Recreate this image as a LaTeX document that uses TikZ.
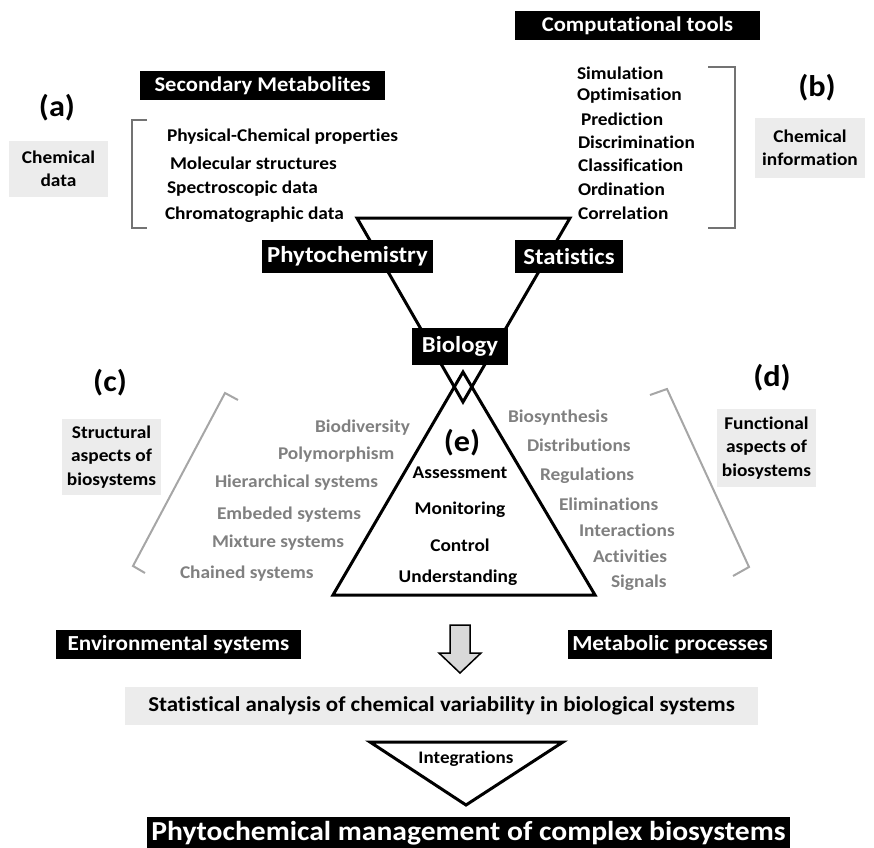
\documentclass[tikz,border=0pt]{standalone}
\usepackage{fontspec}
\setmainfont{Carlito}[FakeStretch=1.08, Ligatures=NoCommon]
\definecolor{panel}{RGB}{236,236,236}
\definecolor{lbl}{RGB}{128,128,128}
\definecolor{brk}{RGB}{115,115,115}
\definecolor{brklight}{RGB}{166,166,166}
\definecolor{arrowfill}{RGB}{217,217,217}
\newcommand{\fsz}[1]{\fontsize{#1}{#1}\selectfont\bfseries}
\begin{document}
\begin{tikzpicture}[x=1bp,y=-1bp,
  every node/.style={inner sep=0pt, outer sep=0pt},
  blackbox/.style={fill=black, text=white, font=\fsz{21}},
  panelbox/.style={fill=panel, text=black, font=\fontsize{18}{23.5}\selectfont\bfseries, align=center},
  item/.style={anchor=west, text=black, font=\fsz{18}},
  grayitem/.style={anchor=west, text=lbl, font=\fsz{18}},
  inner/.style={text=black, font=\fsz{18}},
  tag/.style={text=black, font=\fsz{30}},
  frame/.style={draw=black, line width=3bp, line join=miter},
  bracket/.style={draw=brk, line width=2bp},
  lightbracket/.style={draw=brklight, line width=2bp}]
\useasboundingbox (0,0) rectangle (874,848);

% ---- funnel: Phytochemistry / Statistics -> Biology
\coordinate (ftl) at (357,218);
\coordinate (ftr) at (570,218);
\coordinate (fap) at (463,402);
\draw[frame] (ftl) -- (ftr) -- (fap) -- cycle;

% ---- pyramid (e)
\coordinate (pap) at (463,372);
\coordinate (pbr) at (595,595);
\coordinate (pbl) at (333,595);
\draw[frame] (pap) -- (pbr) -- (pbl) -- cycle;

% ---- integration funnel
\coordinate (itl) at (370,742);
\coordinate (itr) at (563,742);
\coordinate (iap) at (466,805);
\draw[frame, fill=white] (itl) -- (itr) -- (iap) -- cycle;

% ---- header boxes
\node[blackbox, minimum width=245bp, minimum height=29bp] (secmet) at (262.5,85.5) {Secondary Metabolites};
\node[blackbox, minimum width=245bp, minimum height=29bp] (comp) at (637.5,25.5) {Computational tools};
\node[blackbox, font=\fsz{23}, minimum width=171bp, minimum height=33bp] (phyto) at (347.5,256.5) {Phytochemistry};
\node[blackbox, font=\fsz{23}, minimum width=108bp, minimum height=33bp] (stat) at (569,256.5) {Statistics};
\node[blackbox, font=\fsz{23}, minimum width=96bp, minimum height=37bp] (bio) at (460,346.5) {Biology};

% ---- (a) chemical data
\node[tag] (taga) at (57,108) {(a)};
\node[panelbox, minimum width=99bp, minimum height=56bp] (chemdata) at (58.5,169) {Chemical\\data};
\draw[bracket] (147,120) -- (132,120) -- (132,228) -- (147,228);
\node[item] (pcp) at (167,137) {Physical-Chemical properties};
\node[item] (mol) at (170,163) {Molecular structures};
\node[item] (spec) at (167,189) {Spectroscopic data};
\node[item] (chrom) at (165,215) {Chromatographic data};

% ---- (b) chemical information
\node[tag] (tagb) at (817,88) {(b)};
\node[panelbox, minimum width=110bp, minimum height=60bp] (cheminfo) at (810,148) {Chemical\\information};
\draw[bracket] (708,67) -- (735,67) -- (735,228) -- (708,228);
\node[item] (sim) at (577,73) {Simulation};
\node[item] (opt) at (577,96) {Optimisation};
\node[item] (pred) at (581,119) {Prediction};
\node[item] (disc) at (578,142) {Discrimination};
\node[item] (clas) at (578,165) {Classification};
\node[item] (ordi) at (578,189) {Ordination};
\node[item] (corr) at (578,213) {Correlation};

% ---- (c) structural aspects
\node[tag] (tagc) at (110,383) {(c)};
\node[panelbox, minimum width=99bp, minimum height=76bp] (struct) at (111.5,457) {Structural\\aspects of\\biosystems};
\draw[lightbracket] (238,400) -- (225,393) -- (133,566) -- (145,573);
\node[grayitem] (bdiv) at (315,428) {Biodiversity};
\node[grayitem] (poly) at (278,455) {Polymorphism};
\node[grayitem] (hier) at (215,483) {Hierarchical systems};
\node[grayitem] (embe) at (217,515) {Embeded systems};
\node[grayitem] (mixt) at (212,543) {Mixture systems};
\node[grayitem] (chai) at (180,574) {Chained systems};

% ---- (d) functional aspects
\node[tag] (tagd) at (772,378) {(d)};
\node[panelbox, minimum width=99bp, minimum height=78bp] (func) at (766.5,448) {Functional\\aspects of\\biosystems};
\draw[lightbracket] (650,395) -- (667,389) -- (749,567) -- (733,576);
\node[grayitem] (bsyn) at (508,418) {Biosynthesis};
\node[grayitem] (dist) at (527,445) {Distributions};
\node[grayitem] (regu) at (540,476) {Regulations};
\node[grayitem] (elim) at (559,504) {Eliminations};
\node[grayitem] (inte) at (579,530) {Interactions};
\node[grayitem] (acti) at (593,556) {Activities};
\node[grayitem] (sign) at (611,583) {Signals};

% ---- (e) inside the pyramid
\node[tag] (tage) at (462,443) {(e)};
\node[inner] (asse) at (460,473) {Assessment};
\node[inner] (moni) at (460,510) {Monitoring};
\node[inner] (cont) at (460,545) {Control};
\node[inner] (unde) at (458,578) {Understanding};

% ---- lower part
\node[blackbox, font=\fsz{21.5}, minimum width=245bp, minimum height=29bp] (env) at (178.5,644.5) {Environmental systems};
\node[blackbox, font=\fsz{21.5}, minimum width=204bp, minimum height=29bp] (meta) at (670,644.5) {Metabolic processes};
\draw[fill=arrowfill, draw=black, line width=1.5bp, line join=miter]
  (450,625) -- (470,625) -- (470,653) -- (481,653) -- (460,673) -- (439,653) -- (450,653) -- cycle;
\node[panelbox, font=\fsz{21.3}, minimum width=633bp, minimum height=38bp] (analysis) at (441.5,706) {Statistical analysis of chemical variability in biological systems};
\node[font=\fsz{17.7}, fill=white, inner sep=1bp] (integ) at (466,759) {Integrations};
\node[blackbox, font=\fsz{27.5}, minimum width=643bp, minimum height=33bp, anchor=north] (manage) at (468.5,817) {Phytochemical management of complex biosystems};
\end{tikzpicture}
\end{document}
